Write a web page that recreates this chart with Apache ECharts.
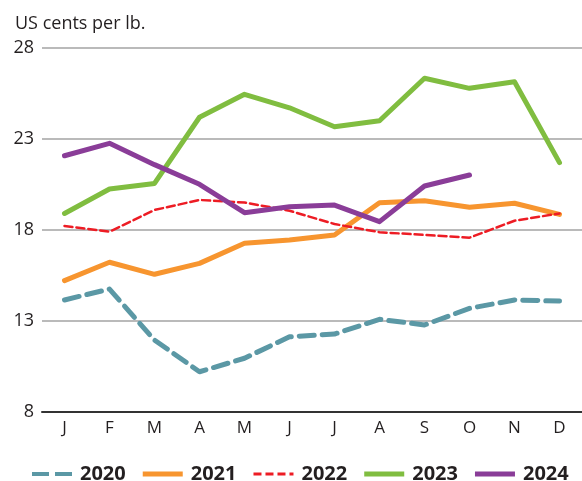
<!DOCTYPE html>
<html>
<head>
<meta charset="utf-8">
<script src="https://cdn.jsdelivr.net/npm/echarts@6/dist/echarts.min.js"></script>
<style>html,body{margin:0;padding:0;background:#fff}#c{width:582px;height:481px}</style>
</head>
<body>
<div id="c"></div>
<script>
const months = ['J','F','M','A','M','J','J','A','S','O','N','D'];
const yTicks = [8, 13, 18, 23, 28];
const s2020 = [14.15, 14.75, 11.95, 10.21, 10.95, 12.13, 12.28, 13.09, 12.78, 13.69, 14.15, 14.09];
const s2021 = [15.21, 16.22, 15.56, 16.16, 17.26, 17.44, 17.72, 19.49, 19.6, 19.24, 19.46, 18.85];
const s2022 = [18.21, 17.9, 19.09, 19.64, 19.5, 19.05, 18.32, 17.87, 17.72, 17.57, 18.5, 18.9];
const s2023 = [18.9, 20.24, 20.55, 24.18, 25.44, 24.7, 23.66, 23.99, 26.32, 25.77, 26.13, 21.69];
const s2024 = [22.07, 22.75, 21.58, 20.5, 18.94, 19.27, 19.36, 18.45, 20.41, 21.01, null, null];

const FONT = '"Open Sans", "Noto Sans", sans-serif';
const chart = echarts.init(document.getElementById('c'), null, {renderer: 'canvas'});

function mk(name, data, color, width, type) {
  return {
    name, type: 'line', data, symbol: 'none', smooth: false,
    connectNulls: false,
    lineStyle: {color, width, type, cap: 'round', join: 'round'},
    itemStyle: {color},
    emphasis: {disabled: true}
  };
}

chart.setOption({
  animation: false,
  title: {
    text: 'US cents per lb.', left: 10, top: 10,
    textStyle: {fontFamily: FONT, fontSize: 18, fontWeight: 'normal', color: '#231f20'}
  },
  grid: {left: 42, top: 47.7, width: 548, height: 364.3},
  xAxis: {
    type: 'category', data: months, boundaryGap: true,
    axisLine: {lineStyle: {color: '#333', width: 2}},
    axisTick: {alignWithLabel: true, inside: true, length: 7, lineStyle: {color: '#333', width: 2}},
    axisLabel: {fontFamily: FONT, fontSize: 17, color: '#231f20', margin: 8},
    splitLine: {show: false}
  },
  yAxis: {
    type: 'value', min: yTicks[0], max: yTicks[yTicks.length - 1], interval: 5,
    axisLine: {show: false}, axisTick: {show: false},
    axisLabel: {fontFamily: FONT, fontSize: 18, color: '#231f20', margin: 8},
    splitLine: {lineStyle: {color: '#a3a3a3', width: 1.5}}
  },
  legend: {
    left: 27, top: 459, itemWidth: 40, itemHeight: 5, itemGap: 17,
    icon: 'path://M0,0 L40,0 L40,5 L0,5 Z',
    textStyle: {fontFamily: FONT, fontSize: 20, fontWeight: 'bold', color: '#231f20', padding: [0,0,0,3]},
    data: [
      {name: '2020', icon: 'path://M0,0 L17,0 L17,4 L0,4 Z M23,0 L40,0 L40,4 L23,4 Z', itemStyle: {color: '#5b98a5'}},
      {name: '2021'},
      {name: '2022', icon: 'path://M0,0 L8,0 L8,3 L0,3 Z M12,0 L20,0 L20,3 L12,3 Z M24,0 L32,0 L32,3 L24,3 Z M36,0 L40,0 L40,3 L36,3 Z'},
      {name: '2023'},
      {name: '2024'}
    ]
  },
  series: [
    mk('2020', s2020, '#5b98a5', 5, [15, 8]),
    mk('2021', s2021, '#f7952f', 5, 'solid'),
    mk('2022', s2022, '#ed1c24', 2.5, [8, 4]),
    mk('2023', s2023, '#80bd40', 5, 'solid'),
    mk('2024', s2024, '#8a3d98', 5, 'solid')
  ]
});
</script>
</body>
</html>
